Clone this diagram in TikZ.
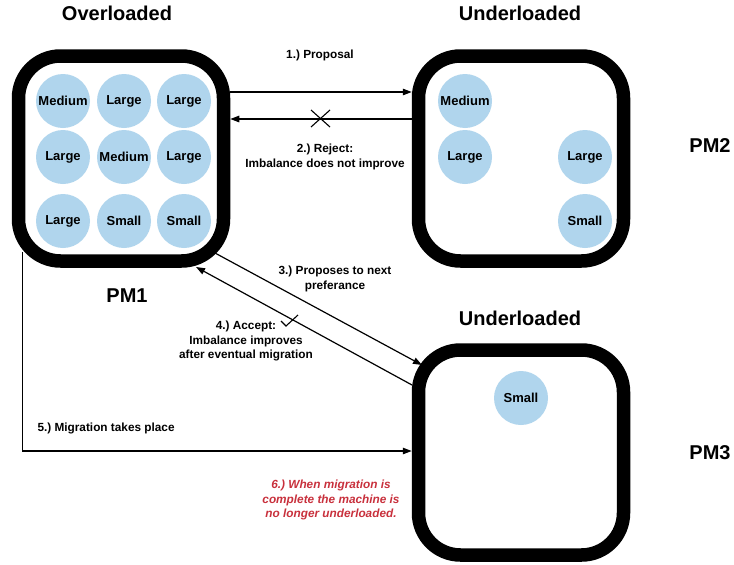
\documentclass[tikz,border=0pt]{standalone}
\usepackage{fontspec}
\setmainfont{Liberation Sans}
\usetikzlibrary{arrows.meta}
\frenchspacing
\definecolor{vmblue}{RGB}{176,213,237}
\definecolor{notered}{RGB}{200,48,60}
\tikzset{
  pm/.style={draw=black, line width=13.5pt, rounded corners=42pt, minimum width=205pt, minimum height=205pt, inner sep=0pt, fill=white},
  vm/.style={circle, fill=vmblue, minimum size=54pt, inner sep=0pt, font=\fontsize{13}{15}\selectfont\bfseries},
  heading/.style={font=\fontsize{20}{24}\selectfont\bfseries},
  lbl/.style={align=center, font=\fontsize{11.8}{14.2}\selectfont\bfseries},
  note/.style={align=center, text=notered, font=\fontsize{11.8}{14.5}\selectfont\bfseries\itshape},
  arr/.style={line width=1.2pt, -{Triangle[length=9pt,width=6.5pt]}},
  tick/.style={line width=1.1pt}
}
\begin{document}
\begin{tikzpicture}[x=1pt, y=-1pt]
\useasboundingbox (0,0) rectangle (734,565);

% machines
\node[pm] (pm1) at (121,158.5) {};
\node[pm] (pm2) at (521,158.5) {};
\node[pm] (pm3) at (521,452.5) {};

% headings and machine names
\node[heading] (h1) at (117,13) {Overloaded};
\node[heading] (h2) at (520,13) {Underloaded};
\node[heading] (h3) at (520,318) {Underloaded};
\node[heading] (n1) at (127,296) {PM1};
\node[heading] (n2) at (710,146) {PM2};
\node[heading] (n3) at (710,453) {PM3};

% virtual machines on PM1
\node[vm] (a1) at (63,101) {Medium};
\node[vm] (a2) at (124,101) {Large};
\node[vm] (a3) at (184,101) {Large};
\node[vm] (a4) at (63,157) {Large};
\node[vm] (a5) at (124,157) {Medium};
\node[vm] (a6) at (184,157) {Large};
\node[vm] (a7) at (63,221) {Large};
\node[vm] (a8) at (124,221) {Small};
\node[vm] (a9) at (184,221) {Small};

% virtual machines on PM2
\node[vm] (b1) at (465,101) {Medium};
\node[vm] (b2) at (465,157) {Large};
\node[vm] (b3) at (585,157) {Large};
\node[vm] (b4) at (585,221) {Small};

% virtual machine on PM3
\node[vm] (c1) at (521,398) {Small};

% 1) proposal and 2) rejection
\draw[arr] ([yshift=66.5pt]pm1.east) -- ([yshift=66.5pt]pm2.west);
\draw[arr] ([yshift=39.5pt]pm2.west) -- ([yshift=39.5pt]pm1.east);
\node[lbl] (l1) at (320,55) {1.) Proposal};
\node[lbl] (l2) at (325,157) {2.) Reject:\\Imbalance does not improve};
\draw[tick] (311,110) -- (330,127) (311,127) -- (330,110);

% 3) next preference and 4) acceptance
\draw[arr] ([xshift=94pt,yshift=-94.5pt]pm1.center) -- ([xshift=-99pt,yshift=87.5pt]pm3.center);
\draw[arr] ([xshift=-109pt,yshift=67.5pt]pm3.center) -- ([xshift=75pt,yshift=-108.5pt]pm1.center);
\node[lbl] (l3) at (335,279) {3.) Proposes to next\\preferance};
\node[lbl] (l4) at (246,341) {4.) Accept:\\Imbalance improves\\after eventual migration};
\draw[tick] (281,321) -- (286,326) -- (298,315);

% 5) migration
\draw[arr] ([xshift=-98.5pt,yshift=-93.5pt]pm1.center) |- ([yshift=1.5pt]pm3.west);
\node[lbl, anchor=west] (l5) at (34,428) {5.) Migration takes place};

% 6) outcome
\node[note] (l6) at (331,500) {6.) When migration is\\complete the machine is\\no longer underloaded.};
\end{tikzpicture}
\end{document}
